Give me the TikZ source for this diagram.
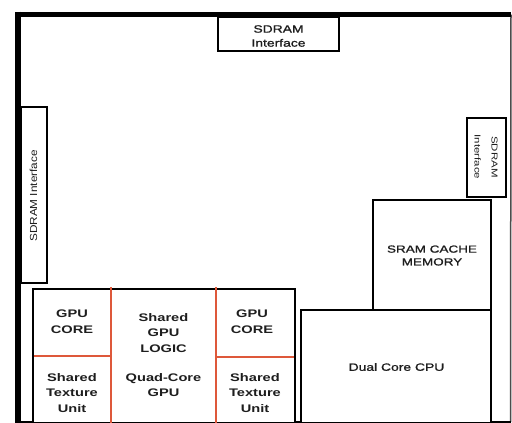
\documentclass[tikz,border=0pt]{standalone}
\usepackage{fontspec}
\newfontfamily\wfont{Liberation Sans}[FakeStretch=1.33]
\newfontfamily\mfont{Liberation Sans}[FakeStretch=1.31,FakeBold=1.2]
\newfontfamily\vfont{Liberation Sans}[FakeStretch=1.155]
\definecolor{redline}{RGB}{222,88,58}
\definecolor{txt}{RGB}{30,30,30}
\begin{document}
\begin{tikzpicture}[x=1pt,y=-1pt,
  box/.style={draw=black,line width=1.6pt,fill=white},
  lbl/.style={text=txt,align=center,inner sep=0pt,font=\mfont\fontsize{10.6}{14}\selectfont},
  blbl/.style={text=txt,align=center,inner sep=0pt,font=\wfont\bfseries\fontsize{11}{15.5}\selectfont},
  divider/.style={draw=redline,line width=1.3pt}]
\useasboundingbox[fill=white] (0,0) rectangle (512,423);
% chip outline
\coordinate (tl) at (18,14.5);
\coordinate (tr) at (511,14.5);
\coordinate (bl) at (18,423);
\coordinate (br) at (510.5,422);
\draw[line width=1.5pt,draw=black!70] (tr) -- (br);
\draw[line width=1.8pt] (15,422) -- (br);
\draw[line width=5pt] (15,14.5) -- (tr);
\draw[line width=6.5pt] (18,11.5) -- (bl);
% SDRAM interfaces
\draw[box] (218,17) rectangle (339,51);
\node[lbl] (sdtop) at (278.5,36) {SDRAM\\Interface};
\draw[box] (21.5,107) rectangle (47,283);
\node[lbl,rotate=90,font=\vfont\fontsize{10.2}{12}\selectfont] (sdleft) at (33.5,196) {SDRAM Interface};
\draw[box] (467,118) rectangle (506,197);
\node[lbl,rotate=-90,font=\wfont\fontsize{8.6}{17}\selectfont] (sdright) at (486,157) {SDRAM\\Interface};
% GPU block
\draw[box] (33,289) rectangle (295,423);
\draw[divider] (111,287) -- (111,423);
\draw[divider] (216,287) -- (216,423);
\draw[divider] (33.8,356) -- (111,356);
\draw[divider] (216,357) -- (294.2,357);
\node[blbl] (core1) at (72,321.5) {GPU\\CORE};
\node[blbl] (logic) at (163.5,333) {Shared\\GPU\\LOGIC};
\node[blbl] (quad) at (163.5,385) {Quad-Core\\GPU};
\node[blbl] (core2) at (252,321.5) {GPU\\CORE};
\node[blbl] (tex1) at (72,393) {Shared\\Texture\\Unit};
\node[blbl] (tex2) at (255,393) {Shared\\Texture\\Unit};
% SRAM + CPU
\draw[box] (373,200) rectangle (491,310);
\node[lbl,font=\mfont\fontsize{10.3}{12.8}\selectfont] (sram) at (432,255.5) {SRAM CACHE\\MEMORY};
\draw[box] (301,310) rectangle (491,423);
\node[lbl] (cpu) at (396.5,367) {Dual Core CPU};
\end{tikzpicture}
\end{document}
